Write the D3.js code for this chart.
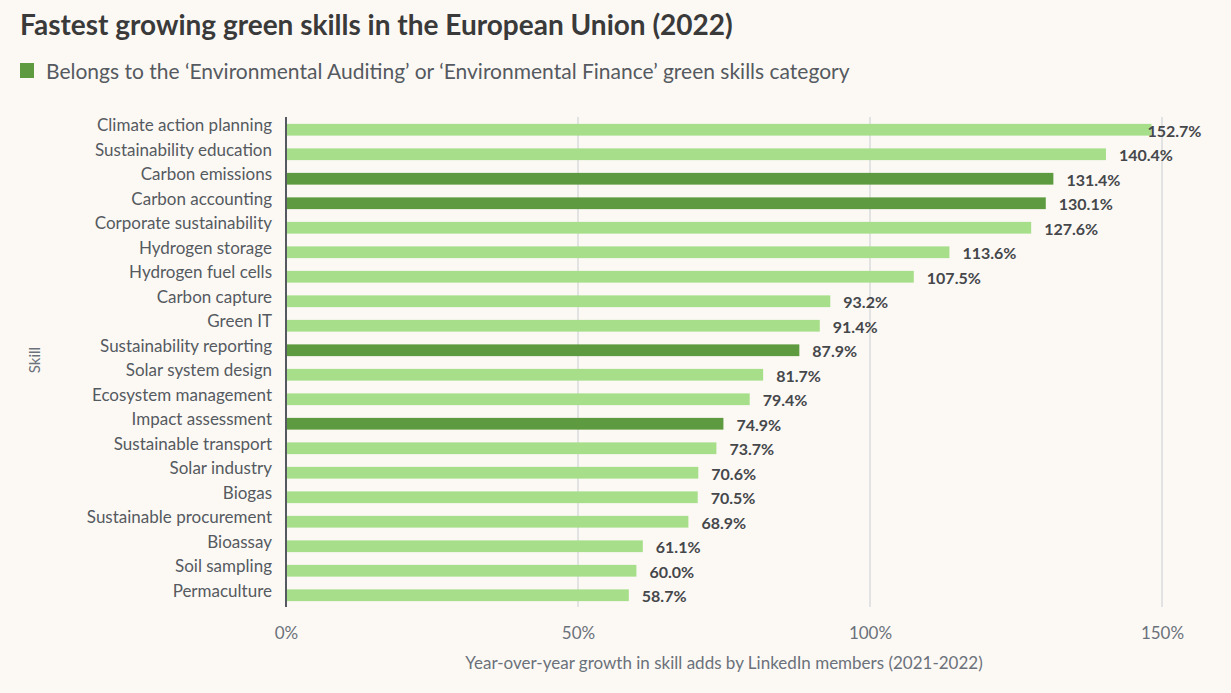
<!DOCTYPE html>
<html>
<head>
<meta charset="utf-8">
<script src="https://cdn.jsdelivr.net/npm/d3@7"></script>
<style>
  body { margin: 0; background: #fcf9f5; }
  svg { display: block; font-family: Lato, "Noto Sans", sans-serif; }
</style>
</head>
<body>
<div id="canvas"></div>
<script>
const skills = ["Climate action planning", "Sustainability education", "Carbon emissions", "Carbon accounting",
  "Corporate sustainability", "Hydrogen storage", "Hydrogen fuel cells", "Carbon capture", "Green IT",
  "Sustainability reporting", "Solar system design", "Ecosystem management", "Impact assessment",
  "Sustainable transport", "Solar industry", "Biogas", "Sustainable procurement", "Bioassay",
  "Soil sampling", "Permaculture"];
const growth = [152.7, 140.4, 131.4, 130.1, 127.6, 113.6, 107.5, 93.2, 91.4, 87.9, 81.7, 79.4, 74.9,
  73.7, 70.6, 70.5, 68.9, 61.1, 60.0, 58.7];
const auditFinance = ["Carbon emissions", "Carbon accounting", "Sustainability reporting", "Impact assessment"];
const xTicks = [0, 50, 100, 150];

const width = 1231, height = 693;
const margin = { top: 117, left: 286 };
const iwidth = 876, iheight = 490;

const svg = d3.select("#canvas").append("svg")
  .attr("width", width).attr("height", height);

svg.append("text")
  .attr("x", 20).attr("y", 35)
  .attr("font-size", 28).attr("font-weight", 700).attr("fill", "#3a3a3a")
  .text("Fastest growing green skills in the European Union (2022)");

svg.append("rect").attr("x", 20).attr("y", 63).attr("width", 14).attr("height", 15).attr("fill", "#5e9b40");
svg.append("text")
  .attr("x", 46).attr("y", 79)
  .attr("font-size", 21).attr("fill", "#555a60")
  .text("Belongs to the \u2018Environmental Auditing\u2019 or \u2018Environmental Finance\u2019 green skills category");

const x = d3.scaleLinear().domain([0, 150]).range([0, iwidth]);
const y = d3.scaleBand().domain(skills).range([0.5, iheight + 0.5]).paddingInner(0.52).paddingOuter(0.26);

const g = svg.append("g").attr("transform", `translate(${margin.left},${margin.top})`);

// gridlines
g.append("g").selectAll("line").data(xTicks.slice(1)).join("line")
  .attr("x1", d => x(d)).attr("x2", d => x(d))
  .attr("y1", 0).attr("y2", iheight)
  .attr("stroke", "#c9ccd0").attr("stroke-width", 1);

// bars are clipped near the right end, as in the original
svg.append("clipPath").attr("id", "plotclip")
  .append("rect").attr("x", 0).attr("y", 0).attr("width", x(148.2)).attr("height", iheight);

g.append("g").attr("clip-path", "url(#plotclip)")
  .selectAll("rect").data(skills).join("rect")
  .attr("x", 0)
  .attr("y", d => y(d))
  .attr("width", (d, i) => x(growth[i]))
  .attr("height", y.bandwidth())
  .attr("fill", d => auditFinance.includes(d) ? "#5e9b40" : "#a6de8a");

g.append("g").selectAll("text").data(skills).join("text")
  .attr("x", (d, i) => Math.min(x(growth[i]) + 13, x(147.5)))
  .attr("y", d => y(d) + y.bandwidth() / 2 + 7)
  .attr("font-size", 16).attr("font-weight", 700).attr("fill", "#45474b")
  .text((d, i) => growth[i].toFixed(1) + "%");

// y axis
const yAxis = g.append("g").call(d3.axisLeft(y).tickSize(0).tickPadding(14));
yAxis.select(".domain").remove();
yAxis.selectAll("text")
  .attr("font-family", "Lato, sans-serif").attr("font-size", 17).attr("fill", "#555a60")
  .attr("dy", "0.1em");
g.append("line").attr("x1", 0).attr("x2", 0).attr("y1", 0).attr("y2", iheight)
  .attr("stroke", "#555a60").attr("stroke-width", 2);

// x axis
const xAxis = g.append("g").attr("transform", `translate(0,${iheight})`)
  .call(d3.axisBottom(x).tickValues(xTicks).tickSize(0).tickPadding(20).tickFormat(d => d + "%"));
xAxis.select(".domain").remove();
xAxis.selectAll("text")
  .attr("font-family", "Lato, sans-serif").attr("font-size", 17).attr("fill", "#6b717a");

svg.append("text")
  .attr("x", 724).attr("y", 669).attr("text-anchor", "middle")
  .attr("font-size", 17).attr("fill", "#6b717a")
  .text("Year-over-year growth in skill adds by LinkedIn members (2021-2022)");

svg.append("text")
  .attr("transform", "translate(40,360) rotate(-90)").attr("text-anchor", "middle")
  .attr("font-size", 15).attr("fill", "#6b717a")
  .text("Skill");
</script>
</body>
</html>
